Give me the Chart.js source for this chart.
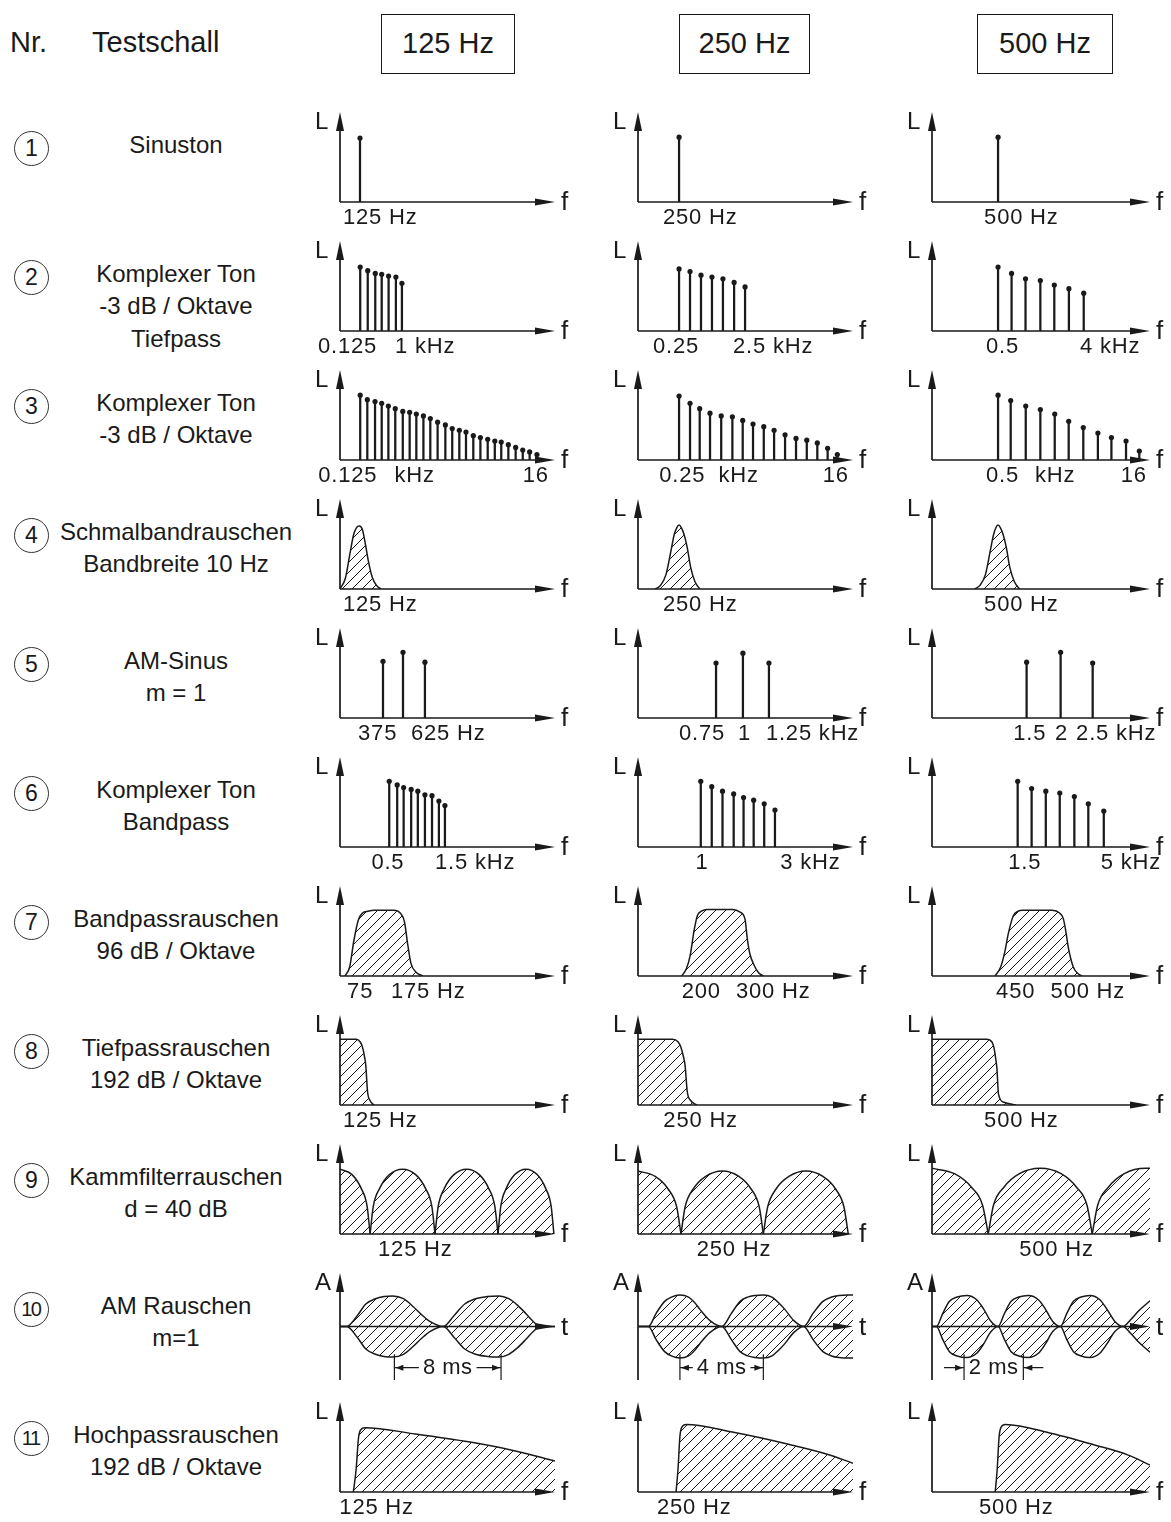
<!DOCTYPE html>
<html lang="de">
<head>
<meta charset="utf-8">
<title>Testschalle</title>
<script src="https://cdn.jsdelivr.net/npm/chart.js@4.4.1/dist/chart.umd.min.js"></script>
<style>
  html, body { margin: 0; padding: 0; background: #fff; }
  body {
    position: relative; width: 1171px; height: 1522px; overflow: hidden;
    font-family: "Liberation Sans", Arial, Helvetica, sans-serif; color: #1a1a1a;
  }
  .head { position: absolute; top: 25px; font-size: 29px; line-height: 34px; white-space: nowrap; }
  .box {
    position: absolute; top: 14px; height: 60px; box-sizing: border-box;
    border: 1.5px solid #1a1a1a; font-size: 29px; line-height: 57px; text-align: center;
  }
  .nr {
    position: absolute; left: 14px; width: 35px; height: 35px; box-sizing: border-box;
    border: 1.3px solid #333; border-radius: 50%; text-align: center;
    font-size: 23px; line-height: 33px;
  }
  .nr.two { font-size: 20px; letter-spacing: -1.5px; text-indent: -1.5px; }
  .name {
    position: absolute; transform: translateX(-50%); text-align: center;
    font-size: 24px; line-height: 32.5px; white-space: nowrap;
  }
  canvas { position: absolute; }
</style>
</head>
<body>
<div class="head" style="left:10px">Nr.</div>
<div class="head" style="left:92px">Testschall</div>

<script>
// spalten und zeilen
const columns = ["125 Hz", "250 Hz", "500 Hz"];
const rowNames = [
  ["Sinuston"],
  ["Komplexer Ton", "-3 dB / Oktave", "Tiefpass"],
  ["Komplexer Ton", "-3 dB / Oktave"],
  ["Schmalbandrauschen", "Bandbreite 10 Hz"],
  ["AM-Sinus", "m = 1"],
  ["Komplexer Ton", "Bandpass"],
  ["Bandpassrauschen", "96 dB / Oktave"],
  ["Tiefpassrauschen", "192 dB / Oktave"],
  ["Kammfilterrauschen", "d = 40 dB"],
  ["AM Rauschen", "m=1"],
  ["Hochpassrauschen", "192 dB / Oktave"],
];

// x = position auf der f-achse (0..100), L = pegel (0..100)
// 1 Sinuston
const sinusX = [[9.3], [19.1], [30.3]];
const sinusL = [[71], [72], [72]];
const sinusTicks = [[[1.4, "125 Hz"]], [[11.6, "250 Hz"]], [[23.9, "500 Hz"]]];

// 2 Komplexer Ton Tiefpass
const tiefpassX = [
  [9.4, 12.9, 16.4, 19.4, 22.6, 26.0, 28.8],
  [19.1, 24.2, 29.3, 34.4, 39.5, 44.7, 49.8],
  [30.3, 36.5, 42.9, 49.7, 56.1, 62.8, 69.6],
];
const tiefpassL = [
  [71, 67, 64, 63, 61, 60, 53],
  [69, 66, 62, 60, 58, 54, 49],
  [71, 64, 58, 56, 51, 47, 42],
];
const tiefpassTicks = [
  [[-10.2, "0.125"], [25.6, "1 kHz"]],
  [[7.0, "0.25"], [44.2, "2.5 kHz"]],
  [[24.8, "0.5"], [67.9, "4 kHz"]],
];

// 3 Komplexer Ton -3 dB / Oktave
const oktaveX = [
  [9.4, 12.7, 16.3, 19.4, 22.5, 25.7, 29.2, 32.4, 35.5, 38.8, 42.0, 45.4, 49.0,
   52.2, 55.5, 58.6, 62.0, 65.3, 68.7, 72.0, 75.0, 78.3, 81.7, 85.0, 88.2, 91.6],
  [19.1, 24.2, 28.7, 33.5, 38.7, 43.9, 48.7, 53.5, 58.5, 63.3, 68.4, 73.5, 78.5, 83.4, 88.2, 92.7],
  [30.3, 36.1, 43.0, 49.7, 56.3, 62.7, 69.4, 76.1, 82.3, 89.0, 95.1],
];
const oktaveL = [
  [72, 67, 65, 63, 60, 57, 54, 53, 51, 49, 46, 42, 39, 35, 33, 31, 27, 25, 23, 21, 20, 17, 14, 11, 9, 6],
  [71, 63, 57, 52, 49, 48, 44, 40, 37, 33, 28, 24, 22, 19, 13, 6],
  [72, 66, 60, 56, 51, 43, 36, 30, 25, 21, 10],
];
const oktaveTicks = [
  [[-10.1, "0.125"], [25.3, "kHz"], [85.0, "16"]],
  [[9.9, "0.25"], [37.4, "kHz"], [85.9, "16"]],
  [[24.8, "0.5"], [47.2, "kHz"], [86.6, "16"]],
];

// 4 Schmalbandrauschen
const schmalX = [
  [0, 2.5, 4.6, 6.3, 7.6, 9.0, 10.4, 11.8, 13.2, 15, 17, 19],
  [7.9, 10.5, 13, 15.3, 16.8, 18, 19.1, 20.2, 21.5, 22.9, 24.5, 26.5, 28.8],
  [19.5, 22, 24.5, 26.7, 28.2, 29.3, 30.3, 31.4, 32.7, 34.1, 35.7, 37.8, 40.2],
];
const schmalL = [
  [0, 12, 39, 60, 68, 70, 66, 50, 31, 13, 4, 0],
  [0, 4, 16, 42, 60, 68, 71, 68, 60, 46, 24, 8, 0],
  [0, 4, 16, 42, 60, 68, 71, 68, 60, 46, 24, 8, 0],
];
const schmalTicks = [[[1.4, "125 Hz"]], [[11.6, "250 Hz"]], [[23.9, "500 Hz"]]];

// 5 AM-Sinus
const amSinusX = [[20.0, 29.3, 39.5], [36.3, 48.8, 60.9], [43.4, 59.0, 73.7]];
const amSinusL = [[63, 73, 62], [61, 72, 61], [62, 73, 61]];
const amSinusTicks = [
  [[8.4, "375"], [33.0, "625 Hz"]],
  [[19.1, "0.75"], [46.5, "1"], [59.5, "1.25 kHz"]],
  [[37.3, "1.5"], [56.4, "2"], [66.1, "2.5 kHz"]],
];

// 6 Komplexer Ton Bandpass
const bandTonX = [
  [22.9, 26.6, 29.6, 33.1, 36.2, 39.5, 42.8, 46.0, 48.8],
  [29.2, 34.3, 39.3, 44.5, 49.1, 53.8, 58.7, 63.7],
  [39.3, 45.7, 52.2, 58.6, 65.3, 71.7, 78.8],
];
const bandTonL = [
  [73, 69, 66, 64, 62, 58, 57, 51, 46],
  [73, 67, 62, 59, 55, 52, 48, 41],
  [73, 65, 62, 60, 56, 48, 40],
];
const bandTonTicks = [
  [[14.6, "0.5"], [44.2, "1.5 kHz"]],
  [[26.8, "1"], [66.2, "3 kHz"]],
  [[35.0, "1.5"], [77.4, "5 kHz"]],
];

// 7 Bandpassrauschen
const bandRauschX = [
  [2.3, 4.5, 6.5, 8.5, 10.5, 13, 16, 25, 28, 30, 31.5, 33, 35.5, 38.5],
  [20.3, 22.5, 24.2, 26.2, 27.6, 29.5, 32, 44, 47.5, 49.8, 50.8, 52, 54, 56, 58.3],
  [28.9, 31.5, 33.5, 35, 37.3, 39.5, 41.4, 55.2, 58.5, 60.2, 61.5, 62.5, 64.8, 66.8, 68.7],
];
const bandRauschL = [
  [0, 10, 40, 62, 70, 72, 73, 73, 70, 60, 35, 14, 4, 0],
  [0, 8, 22, 52, 67, 72, 74, 74, 71, 63, 42, 25, 12, 4, 0],
  [0, 10, 28, 47, 67, 72, 73, 73, 70, 64, 48, 32, 10, 3, 0],
];
const bandRauschTicks = [
  [[3.3, "75"], [23.7, "175 Hz"]],
  [[20.3, "200"], [45.6, "300 Hz"]],
  [[29.4, "450"], [54.4, "500 Hz"]],
];

// 8 Tiefpassrauschen
const tiefRauschX = [
  [0, 7.5, 9.4, 10.5, 11.3, 12, 12.8, 14, 15.8],
  [0, 16, 18.7, 20, 21, 21.9, 22.9, 24.5, 27.3],
  [0, 25, 27.5, 28.5, 29.2, 29.8, 30.5, 33, 38.5],
];
const tiefRauschL = [
  [73, 73, 70, 64, 55, 44, 15, 5, 0],
  [73, 73, 70, 64, 55, 44, 15, 5, 0],
  [73, 73, 70, 63, 52, 40, 12, 3, 0],
];
const tiefRauschTicks = [[[1.4, "125 Hz"]], [[11.8, "250 Hz"]], [[23.9, "500 Hz"]]];

// 9 Kammfilterrauschen
const kammX = [
  [0, 5.6, 9.8, 12.6, 14, 15.5, 18.5, 23, 29.1, 35.2, 39.7, 42.7, 44.2, 45.7, 48.6, 53, 58.9,
   64.8, 69.1, 72, 73.5, 74.8, 77.4, 81.3, 86.5, 91.7, 95.6, 98.2, 99.5],
  [0, 8, 14, 18, 20, 21.9, 25.7, 31.5, 39.2, 46.9, 52.6, 56.4, 58.3, 60.3, 64.2, 70.2, 78.1,
   86, 91.9, 95.8, 97.8],
  [0, 10.3, 18.1, 23.2, 25.8, 28.2, 33, 40.1, 49.7, 59.2, 66.3, 71.1, 73.5, 76, 80.9, 88.2, 98, 100],
];
const kammL = [
  [72, 66, 51, 31, 0, 31, 51, 66, 72, 66, 51, 31, 0, 31, 51, 66, 72, 66, 51, 31, 0, 31, 51, 66, 72, 66, 51, 31, 0],
  [70, 64, 50, 30, 0, 30, 50, 64, 70, 64, 50, 30, 0, 30, 50, 64, 70, 64, 50, 30, 0],
  [73, 67, 52, 32, 0, 32, 52, 67, 73, 67, 52, 32, 0, 32, 52, 67, 73, 73],
];
const kammTicks = [[[17.7, "125 Hz"]], [[27.3, "250 Hz"]], [[40.0, "500 Hz"]]];

// 10 AM Rauschen (obere huellkurve, A in % des halben bereichs)
const amRauschX = [
  [0, 3.1, 8, 12, 16.5, 20.5, 24.5, 29.5, 34.1, 38, 42, 48, 53, 58, 63, 68.5, 74, 78.5, 82.5, 86.5, 90, 93, 100],
  [0, 4.8, 8.5, 12.4, 15.5, 19.5, 23.5, 26.5, 28.8, 33.5, 39, 43.5, 47.5, 51, 54.5, 58.3, 62.3,
   65.5, 68.3, 72.5, 77, 81.5, 86, 90, 93.5, 97.5, 100],
  [0, 2, 5, 8, 11.5, 16, 20.5, 23.5, 27, 30.3, 33.3, 36.3, 39.8, 44.2, 48.8, 51.8, 55.3, 58.9,
   61.9, 64.9, 68.4, 72.5, 77, 80, 83.8, 87.6, 91, 94.5, 100],
];
const amRauschA = [
  [0, 0, 20, 42, 52, 56, 57, 52, 37, 22, 9, 0, 20, 42, 52, 56, 57, 52, 40, 24, 9, 0, 0],
  [0, 0, 25, 47, 55, 59, 55, 44, 32, 11, 0, 25, 47, 55, 58, 59, 55, 44, 32, 11, 0, 25, 47, 55, 58, 59, 59],
  [0, 0, 25, 47, 55, 58, 50, 34, 10, 0, 25, 47, 55, 58, 50, 34, 10, 0, 25, 47, 55, 58, 50, 34, 10, 0, 12, 28, 48],
];
const amRauschMarks = [[25.3, 74.9, "8 ms"], [19.5, 58.3, "4 ms"], [14.7, 41.9, "2 ms"]];

// 11 Hochpassrauschen
const hochX = [
  [6.2, 7.5, 8.6, 9.6, 11.6, 35, 60.5, 80, 100],
  [17.7, 18.6, 19.5, 20.4, 22.4, 45, 70, 88, 100],
  [29, 29.9, 30.8, 31.7, 33.6, 55, 75, 90, 100],
];
const hochL = [
  [0, 25, 60, 69, 71.4, 64.5, 55.5, 46.5, 34.5],
  [0, 25, 62, 72, 75, 66, 53, 42, 32],
  [0, 25, 62, 72, 75, 65, 52, 41, 30],
];
const hochTicks = [[[-0.3, "125 Hz"]], [[8.8, "250 Hz"]], [[21.6, "500 Hz"]]];

const rows = [
  { kind: "stem", x: sinusX, l: sinusL, ticks: sinusTicks },
  { kind: "stem", x: tiefpassX, l: tiefpassL, ticks: tiefpassTicks },
  { kind: "stem", x: oktaveX, l: oktaveL, ticks: oktaveTicks },
  { kind: "area", x: schmalX, l: schmalL, ticks: schmalTicks },
  { kind: "stem", x: amSinusX, l: amSinusL, ticks: amSinusTicks },
  { kind: "stem", x: bandTonX, l: bandTonL, ticks: bandTonTicks },
  { kind: "area", x: bandRauschX, l: bandRauschL, ticks: bandRauschTicks },
  { kind: "area", x: tiefRauschX, l: tiefRauschL, ticks: tiefRauschTicks },
  { kind: "humps", x: kammX, l: kammL, ticks: kammTicks },
  { kind: "env", x: amRauschX, l: amRauschA, marks: amRauschMarks },
  { kind: "area", x: hochX, l: hochL, ticks: hochTicks },
];

const INK = "#1a1a1a";
const FONT = '"Liberation Sans", Arial, Helvetica, sans-serif';
const axisLeft = [340, 638, 932];
const axisLen = [215, 215, 218];
const markStyle = ["innen", "innen", "aussen"];

// kopfzeile
const boxPos = [[381, 134], [679, 131], [977, 136]];
columns.forEach((c, i) => {
  const d = document.createElement("div");
  d.className = "box";
  d.style.left = boxPos[i][0] + "px";
  d.style.width = boxPos[i][1] + "px";
  d.textContent = c;
  document.body.appendChild(d);
});

// linke spalte
rowNames.forEach((lines, i) => {
  const n = document.createElement("div");
  n.className = "nr" + (i >= 9 ? " two" : "");
  n.style.top = (148 + 129 * i - 17.5) + "px";
  n.textContent = i + 1;
  document.body.appendChild(n);

  const t = document.createElement("div");
  t.className = "name";
  t.style.left = "176px";
  t.style.top = (145 + 129 * i - 16.25) + "px";
  t.innerHTML = lines.join("<br>");
  document.body.appendChild(t);
});

function hatchTile() {
  const s = 10;
  const c = document.createElement("canvas");
  c.width = c.height = s;
  const g = c.getContext("2d");
  g.strokeStyle = INK;
  g.lineWidth = 1;
  g.beginPath();
  g.moveTo(0, s); g.lineTo(s, 0);
  g.moveTo(-1, 1); g.lineTo(1, -1);
  g.moveTo(s - 1, s + 1); g.lineTo(s + 1, s - 1);
  g.stroke();
  return c;
}
const tile = hatchTile();

function head(ctx, x, y, dir, len, w) {
  ctx.beginPath();
  if (dir === "up") { ctx.moveTo(x, y); ctx.lineTo(x - w, y + len); ctx.lineTo(x + w, y + len); }
  if (dir === "right") { ctx.moveTo(x, y); ctx.lineTo(x - len, y - w); ctx.lineTo(x - len, y + w); }
  if (dir === "left") { ctx.moveTo(x, y); ctx.lineTo(x + len, y - w); ctx.lineTo(x + len, y + w); }
  ctx.closePath();
  ctx.fill();
}

// achsen mit pfeilen, achsenbuchstaben, beschriftung
function schema(spec) {
  return {
    id: "schema",
    afterDatasetsDraw(chart) {
      const ctx = chart.ctx, a = chart.chartArea;
      const xs = chart.scales.x, ys = chart.scales.y;
      const y0 = ys.getPixelForValue(0);
      ctx.save();
      ctx.strokeStyle = INK;
      ctx.fillStyle = INK;
      ctx.lineWidth = 1.7;
      ctx.beginPath();
      ctx.moveTo(a.left, a.bottom);
      ctx.lineTo(a.left, a.top + 14);
      ctx.moveTo(a.left, y0);
      ctx.lineTo(a.right - 14, y0);
      ctx.stroke();
      head(ctx, a.left, a.top, "up", 19, 4);
      head(ctx, a.right, y0, "right", 20, 3.5);

      ctx.textAlign = "left";
      ctx.textBaseline = "top";
      ctx.font = "24px " + FONT;
      ctx.fillText(spec.yLabel, a.left - 25, a.top - 2);
      ctx.textBaseline = "middle";
      ctx.font = "26px " + FONT;
      ctx.fillText(spec.xLabel, a.right + 6, y0 + 1);

      ctx.font = "22px " + FONT;
      ctx.letterSpacing = "0.8px";
      (spec.ticks || []).forEach(([v, t]) => ctx.fillText(t, xs.getPixelForValue(v), y0 + 16));

      if (spec.mark) {
        const [from, to, text] = spec.mark;
        const xa = xs.getPixelForValue(from), xb = xs.getPixelForValue(to);
        const ym = ys.getPixelForValue(-77);
        ctx.lineWidth = 1.2;
        ctx.beginPath();
        ctx.moveTo(xa, ys.getPixelForValue(-52)); ctx.lineTo(xa, a.bottom);
        ctx.moveTo(xb, ys.getPixelForValue(-52)); ctx.lineTo(xb, a.bottom);
        ctx.stroke();
        ctx.textAlign = "center";
        ctx.letterSpacing = "0.5px";
        ctx.fillText(text, (xa + xb) / 2, ym);
        const w = ctx.measureText(text).width;
        const tl = (xa + xb) / 2 - w / 2 - 4, tr = (xa + xb) / 2 + w / 2 + 4;
        ctx.beginPath();
        if (spec.markStyle === "innen") {
          ctx.moveTo(xa, ym); ctx.lineTo(tl, ym);
          ctx.moveTo(xb, ym); ctx.lineTo(tr, ym);
          ctx.stroke();
          head(ctx, xa + 1, ym, "left", 8, 3);
          head(ctx, xb - 1, ym, "right", 8, 3);
        } else {
          ctx.moveTo(xa - 20, ym); ctx.lineTo(xa, ym);
          ctx.moveTo(xb + 20, ym); ctx.lineTo(xb, ym);
          ctx.stroke();
          head(ctx, xa - 1, ym, "right", 8, 3);
          head(ctx, xb + 1, ym, "left", 8, 3);
        }
      }
      ctx.restore();
    },
  };
}

function datasetsFor(row, c, pattern) {
  const pts = row.x[c].map((x, i) => ({ x, y: row.l[c][i] }));
  const area = (data) => ({
    type: "line", data, fill: "origin", backgroundColor: pattern,
    borderColor: INK, borderWidth: 1.5, pointRadius: 0,
    cubicInterpolationMode: "monotone",
  });
  if (row.kind === "stem") {
    return [
      { type: "bar", data: pts, backgroundColor: INK, barThickness: 1.6, borderWidth: 0 },
      { type: "line", data: pts, showLine: false, pointRadius: 2.6,
        pointBackgroundColor: INK, pointBorderWidth: 0 },
    ];
  }
  if (row.kind === "env") {
    return [area(pts), area(pts.map((p) => ({ x: p.x, y: -p.y })))];
  }
  if (row.kind === "humps") {
    // jeder bogen einzeln, damit die nullstellen spitz bleiben
    const segs = [];
    let cur = [pts[0]];
    pts.slice(1).forEach((p, i) => {
      cur.push(p);
      if (p.y === 0 && i < pts.length - 2) { segs.push(cur); cur = [p]; }
    });
    segs.push(cur);
    return segs.map(area);
  }
  return [area(pts)];
}

const W = 280, H = 126;
rows.forEach((row, r) => {
  const tip = 112 + 129 * r;
  const env = row.kind === "env";
  for (let c = 0; c < 3; c++) {
    const cv = document.createElement("canvas");
    cv.width = W;
    cv.height = H;
    cv.style.left = (axisLeft[c] - 32) + "px";
    cv.style.top = (tip - 6) + "px";
    document.body.appendChild(cv);
    const pattern = cv.getContext("2d").createPattern(tile, "repeat");

    new Chart(cv, {
      type: "line",
      data: { datasets: datasetsFor(row, c, pattern) },
      options: {
        responsive: false,
        animation: false,
        devicePixelRatio: 1,
        events: [],
        layout: { padding: { left: 32, right: W - 32 - axisLen[c], top: 6, bottom: env ? H - 6 - 107 : H - 6 - 90 } },
        plugins: { legend: { display: false }, tooltip: { enabled: false } },
        scales: {
          x: { type: "linear", min: 0, max: 100, offset: false, display: false },
          y: { type: "linear", min: env ? -100 : 0, max: 100, display: false },
        },
      },
      plugins: [schema({
        yLabel: env ? "A" : "L",
        xLabel: env ? "t" : "f",
        ticks: row.ticks ? row.ticks[c] : null,
        mark: env ? row.marks[c] : null,
        markStyle: markStyle[c],
      })],
    });
  }
});
</script>
</body>
</html>
